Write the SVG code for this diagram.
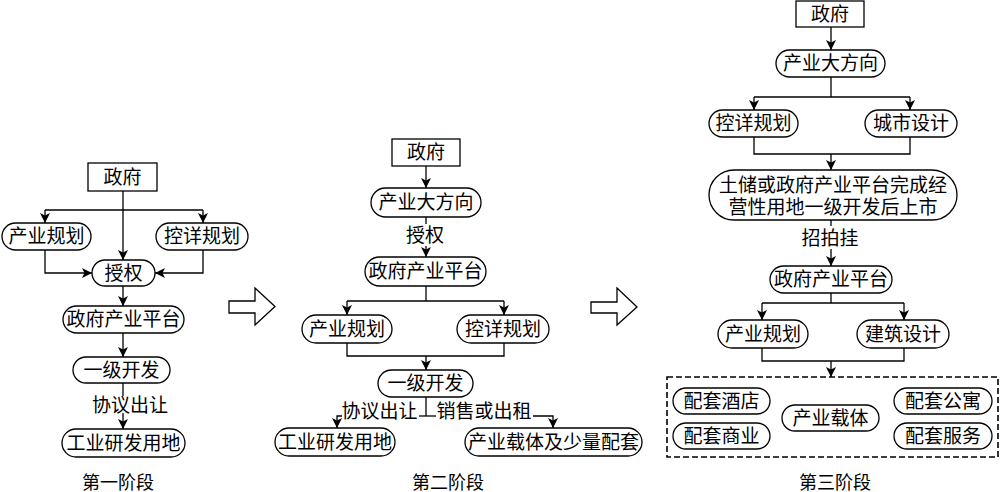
<svg xmlns="http://www.w3.org/2000/svg" width="1000" height="492" viewBox="0 0 1000 492">
<defs>
<marker id="ah" viewBox="0 0 10 10" refX="10" refY="5" markerWidth="11" markerHeight="10" orient="auto" markerUnits="userSpaceOnUse">
<path d="M0,0 L10,5 L0,10 L2.5,5 z" fill="#000"/>
</marker>
<style>
.n rect{fill:#fff;stroke:#000;stroke-width:1.3}
text{font-family:"Liberation Serif","Noto Sans CJK SC",sans-serif;font-size:19px;fill:#000;text-anchor:middle;dominant-baseline:central}
.cap{font-size:18px}
.c path{fill:none;stroke:#000;stroke-width:1.3}
.c path.a{marker-end:url(#ah)}
.big{fill:#fff;stroke:#000;stroke-width:1.3}
</style>
</defs>
<rect width="1000" height="492" fill="#fff"/>

<g id="connectors" class="c">
<!-- stage 1 -->
<path class="a" d="M123,191 V260"/>
<path d="M45,210 H203"/>
<path class="a" d="M45,210 V223"/>
<path class="a" d="M203,210 V223"/>
<path class="a" d="M45,250 V273 H92"/>
<path class="a" d="M203,250 V273 H155"/>
<path class="a" d="M123,286 V306"/>
<path class="a" d="M123,333 V357"/>
<path d="M123,383 V396"/>
<path class="a" d="M123,413 V429"/>
<!-- stage 2 -->
<path class="a" d="M426,166 V188"/>
<path d="M426,217 V224"/>
<path class="a" d="M426,246 V257"/>
<path d="M426,286 V301"/>
<path d="M347,301 H504"/>
<path class="a" d="M347,301 V315"/>
<path class="a" d="M504,301 V315"/>
<path d="M347,343 V356 H504 V343"/>
<path class="a" d="M426,356 V370"/>
<path d="M426,397 V416"/>
<path d="M419,416 H436"/>
<path class="a" d="M533,416 H553 V428"/>
<path class="a" d="M342,416 H337 V428"/>
<!-- stage 3 -->
<path class="a" d="M831,27 V50"/>
<path d="M831,77 V97"/>
<path d="M754,97 H910"/>
<path class="a" d="M754,97 V110"/>
<path class="a" d="M910,97 V110"/>
<path d="M754,137 V154 H910 V137"/>
<path class="a" d="M831,154 V170"/>
<path d="M831,220 V226"/>
<path class="a" d="M831,249 V266"/>
<path d="M831,293 V303"/>
<path d="M762,303 H904"/>
<path class="a" d="M762,303 V320"/>
<path class="a" d="M904,303 V320"/>
<path d="M762,348 V361 H904 V348"/>
<path class="a" d="M831,361 V377"/>
</g>

<!-- transition arrows -->
<polygon class="big" points="229,301 255,301 255,288 275,306.5 255,325 255,313 229,313"/>
<polygon class="big" points="591,302 617,302 617,288 637,307 617,325 617,313 591,313"/>

<!-- stage 1 nodes -->
<g id="s1-gov" class="n"><rect x="88" y="163" width="69" height="28"/><text x="122.5" y="177">政府</text></g>
<g id="s1-cyg" class="n"><rect x="2" y="223" width="89" height="27" rx="13.5"/><text x="46.5" y="236.5">产业规划</text></g>
<g id="s1-kxg" class="n"><rect x="156" y="223" width="92" height="27" rx="13.5"/><text x="202" y="236.5">控详规划</text></g>
<g id="s1-sq" class="n"><rect x="92" y="260" width="63" height="26" rx="13"/><text x="123.5" y="273">授权</text></g>
<g id="s1-pt" class="n"><rect x="63" y="306" width="121" height="27" rx="13.5"/><text x="123.5" y="319.5">政府产业平台</text></g>
<g id="s1-yj" class="n"><rect x="73" y="357" width="97" height="26" rx="13"/><text x="121.5" y="370">一级开发</text></g>
<g id="s1-lbl"><text x="130" y="405">协议出让</text></g>
<g id="s1-gy" class="n"><rect x="62" y="429" width="123" height="28" rx="14"/><text x="123.5" y="443">工业研发用地</text></g>
<text class="cap" x="118" y="483">第一阶段</text>

<!-- stage 2 nodes -->
<g id="s2-gov" class="n"><rect x="392" y="139" width="68" height="27"/><text x="426" y="152.5">政府</text></g>
<g id="s2-dfx" class="n"><rect x="371" y="188" width="110" height="29" rx="14.5"/><text x="426" y="202.5">产业大方向</text></g>
<g id="s2-lbl1"><text x="425" y="235">授权</text></g>
<g id="s2-pt" class="n"><rect x="365" y="257" width="121" height="29" rx="14.5"/><text x="425.5" y="271.5">政府产业平台</text></g>
<g id="s2-cyg" class="n"><rect x="302" y="315" width="90" height="28" rx="14"/><text x="347" y="329">产业规划</text></g>
<g id="s2-kxg" class="n"><rect x="457" y="315" width="92" height="28" rx="14"/><text x="503" y="329">控详规划</text></g>
<g id="s2-yj" class="n"><rect x="378" y="370" width="95" height="27" rx="13.5"/><text x="425.5" y="383.5">一级开发</text></g>
<g id="s2-lbl2"><text x="379.5" y="411">协议出让</text><text x="484" y="411">销售或出租</text></g>
<g id="s2-gy" class="n"><rect x="275" y="428" width="120" height="28" rx="14"/><text x="335" y="442">工业研发用地</text></g>
<g id="s2-zt" class="n"><rect x="465" y="428" width="177" height="28" rx="14"/><text x="553.5" y="442">产业载体及少量配套</text></g>
<text class="cap" x="448" y="483">第二阶段</text>

<!-- stage 3 nodes -->
<g id="s3-gov" class="n"><rect x="796" y="1" width="68" height="26"/><text x="830" y="14">政府</text></g>
<g id="s3-dfx" class="n"><rect x="776" y="50" width="109" height="27" rx="13.5"/><text x="830.5" y="63.5">产业大方向</text></g>
<g id="s3-kxg" class="n"><rect x="709" y="110" width="89" height="27" rx="13.5"/><text x="753.5" y="123.5">控详规划</text></g>
<g id="s3-csj" class="n"><rect x="865" y="110" width="92" height="27" rx="13.5"/><text x="911" y="123.5">城市设计</text></g>
<g id="s3-tc" class="n"><rect x="709" y="170" width="248" height="50" rx="25"/><text x="833" y="185">土储或政府产业平台完成经</text><text x="833" y="207">营性用地一级开发后上市</text></g>
<g id="s3-lbl"><text x="830" y="238">招拍挂</text></g>
<g id="s3-pt" class="n"><rect x="770" y="266" width="122" height="27" rx="13.5"/><text x="831" y="279.5">政府产业平台</text></g>
<g id="s3-cyg" class="n"><rect x="718" y="320" width="90" height="28" rx="14"/><text x="763" y="334">产业规划</text></g>
<g id="s3-jz" class="n"><rect x="857" y="320" width="92" height="28" rx="14"/><text x="903" y="334">建筑设计</text></g>
<g id="s3-box">
<rect x="667" y="377" width="331" height="80" fill="none" stroke="#000" stroke-width="1.6" stroke-dasharray="6,3"/>
</g>
<g id="s3-jd" class="n"><rect x="673" y="388" width="97" height="26" rx="13"/><text x="721.5" y="401">配套酒店</text></g>
<g id="s3-sy" class="n"><rect x="673" y="423" width="97" height="26" rx="13"/><text x="721.5" y="436">配套商业</text></g>
<g id="s3-zt" class="n"><rect x="782" y="405" width="97" height="26" rx="13"/><text x="830.5" y="418">产业载体</text></g>
<g id="s3-gy" class="n"><rect x="894" y="388" width="98" height="26" rx="13"/><text x="943" y="401">配套公寓</text></g>
<g id="s3-fw" class="n"><rect x="894" y="423" width="98" height="26" rx="13"/><text x="943" y="436">配套服务</text></g>
<text class="cap" x="835" y="483">第三阶段</text>
</svg>
